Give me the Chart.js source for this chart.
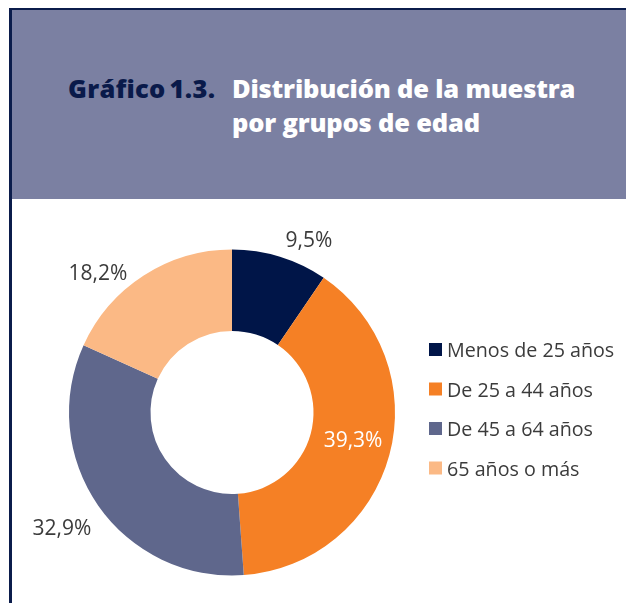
<!DOCTYPE html>
<html>
<head>
<meta charset="utf-8">
<script src="https://cdn.jsdelivr.net/npm/chart.js@4.4.1/dist/chart.umd.min.js"></script>
<style>
  body { margin: 0; width: 626px; height: 603px; overflow: hidden; background: #fff; position: relative; font-family: "Open Sans", sans-serif; }
  #frame { position: absolute; left: 9px; top: 8px; right: -5px; bottom: -5px; border-left: 3px solid #0b1c4b; border-top: 2px solid #0b1c4b; }
  #header { position: absolute; left: 12px; top: 10px; width: 614px; height: 189px; background: #7b80a2; }
  .title { position: absolute; font-weight: 800; font-size: 25.5px; line-height: 25.5px; white-space: nowrap; letter-spacing: -0.2px; }
  #num { left: 68px; top: 76px; color: #0a1a4a; word-spacing: -3px; letter-spacing: 0.3px; }
  #l1 { left: 232px; top: 76px; color: #fff; }
  #l2 { left: 232px; top: 110px; color: #fff; }
  #wrap { position: absolute; left: 12px; top: 199px; width: 614px; height: 404px; }
</style>
</head>
<body>
<div id="frame"></div>
<div id="header"></div>
<div class="title" id="num">Gráfico 1.3.</div>
<div class="title" id="l1">Distribución de la muestra</div>
<div class="title" id="l2">por grupos de edad</div>
<div id="wrap"><canvas id="ageChart" width="614" height="404"></canvas></div>
<script>
// age groups and their share of the sample (%)
const categories = ['Menos de 25 años', 'De 25 a 44 años', 'De 45 a 64 años', '65 años o más'];
const shares = [9.5, 39.3, 32.9, 18.2];
const sliceColors = ['#001548', '#f58025', '#5f678c', '#fbb985'];

// label placement tweaks (like Excel's best fit)
const labelShift = [6.9, -2.5, 0.9, -10.9];   // degrees
const labelDist = [189, 124, 205, 194];       // px from centre
const labelInk = ['#3b3b3b', '#ffffff', '#3b3b3b', '#3b3b3b'];

const formatPct = v => v.toFixed(1).replace('.', ',') + '%';

const sliceLabels = {
  id: 'sliceLabels',
  afterDatasetsDraw(chart) {
    const ctx = chart.ctx;
    const meta = chart.getDatasetMeta(0);
    ctx.save();
    ctx.font = '21px "Open Sans"';
    ctx.textAlign = 'center';
    ctx.textBaseline = 'alphabetic';
    meta.data.forEach((arc, i) => {
      const p = arc.getProps(['x', 'y', 'startAngle', 'endAngle'], true);
      const a = (p.startAngle + p.endAngle) / 2 + labelShift[i] * Math.PI / 180;
      const x = p.x + Math.cos(a) * labelDist[i];
      const y = p.y + Math.sin(a) * labelDist[i];
      ctx.fillStyle = labelInk[i];
      ctx.fillText(formatPct(shares[i]), x, y + 7.5);
    });
    ctx.restore();
  }
};

const sideLegend = {
  id: 'sideLegend',
  afterDraw(chart) {
    const ctx = chart.ctx;
    const labels = chart.data.labels;
    const colors = chart.data.datasets[0].backgroundColor;
    ctx.save();
    ctx.font = '19.7px "Open Sans"';
    ctx.textBaseline = 'alphabetic';
    labels.forEach((lab, i) => {
      const top = 144 + i * 39.5;
      ctx.fillStyle = colors[i];
      ctx.fillRect(417, top, 13, 13);
      ctx.fillStyle = '#3b3b3b';
      ctx.fillText(lab, 435, top + 14);
    });
    ctx.restore();
  }
};

new Chart(document.getElementById('ageChart'), {
  type: 'doughnut',
  data: {
    labels: categories,
    datasets: [{
      data: shares,
      backgroundColor: sliceColors,
      borderWidth: 0
    }]
  },
  options: {
    responsive: false,
    animation: false,
    cutout: '50%',
    layout: { padding: { left: 57, top: 50.5, right: 231, bottom: 27.5 } },
    plugins: {
      legend: { display: false },
      tooltip: { enabled: false }
    }
  },
  plugins: [sliceLabels, sideLegend]
});
</script>
</body>
</html>
